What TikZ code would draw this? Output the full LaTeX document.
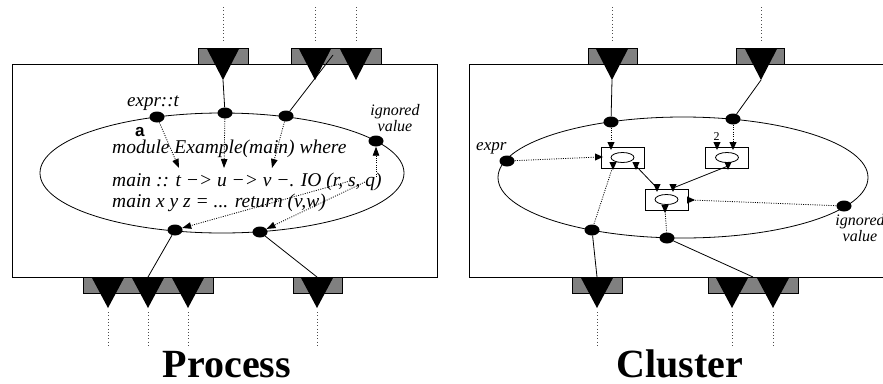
\documentclass[tikz,border=0pt]{standalone}
\usepackage{fontspec}
\setmainfont{Liberation Serif}
\newfontfamily\labsans{Liberation Sans}
\usetikzlibrary{shapes.geometric,arrows.meta}
\tikzset{
  mkdown/.pic={\fill (-3.6,-4) -- (3.6,-4) -- (0,4) -- cycle;},
  mkright/.pic={\fill (-4,-3.6) -- (-4,3.6) -- (4,0) -- cycle;}
}
\begin{document}
\begin{tikzpicture}[x=1pt,y=-1pt,
  dotn/.style={ellipse,fill=black,inner sep=0pt,minimum width=15pt,minimum height=11pt},
  pbox/.style={draw=black,fill=black!50,line width=0.8pt},
  frame/.style={draw=black,line width=0.9pt},
  wire/.style={line width=0.8pt},
  feed/.style={line width=0.9pt,black!70,dash pattern=on 1pt off 2.3pt},
  dwire/.style={line width=0.8pt,dash pattern=on 1pt off 1.3pt},
  darr/.style={dwire,-{Triangle[length=9pt,width=6.5pt]}},
  code/.style={font=\fontsize{19.5}{22}\selectfont\itshape,inner sep=0pt,anchor=base west},
  smalllab/.style={font=\fontsize{16}{14}\selectfont\itshape,inner sep=0pt,anchor=base,align=center},
  title/.style={font=\fontsize{40}{40}\selectfont\bfseries,inner sep=0pt,anchor=base,text depth=0pt},
  opbox/.style={draw=black,line width=0.8pt,minimum width=43pt,minimum height=21pt,inner sep=0pt},
]
\useasboundingbox (0,0) rectangle (883,383);
\clip (0,0) rectangle (883,383);

% ---------------- frames and ellipses
\draw[frame] (12,64) rectangle (437,277);
\draw[frame] (469,64) rectangle (900,277);
\draw[wire] (222,173) ellipse [x radius=182, y radius=60];
\draw[wire] (683,177.5) ellipse [x radius=185, y radius=60.5];

% ---------------- ports
\draw[pbox] (198,48) rectangle (248,64);
\draw[pbox] (291,48) rectangle (381,64);
\draw[pbox] (588,48) rectangle (637,64);
\draw[pbox] (736,48) rectangle (784,64);
\draw[pbox] (83,277) rectangle (213,293);
\draw[pbox] (293,277) rectangle (342,293);
\draw[pbox] (572,277) rectangle (622,293);
\draw[pbox] (708,277) rectangle (798,293);
\foreach \x in {223,315,356,612,761}
  \fill (\x-16.5,48) -- (\x+16.5,48) -- (\x,80) -- cycle;
\foreach \x in {108,148,188,317,597,732,773}
  \fill (\x-16.5,277) -- (\x+16.5,277) -- (\x,308) -- cycle;
\foreach \x in {223,315,356,612,761}
  \draw[feed] (\x,7) -- (\x,42);
\foreach \x in {108,148,188,317,597,732,773}
  \draw[feed] (\x,312) -- (\x,347);

% ---------------- Process panel
\coordinate (LT1) at (223,80);
\coordinate (LP2) at (333,55);
\coordinate (LB1) at (148,277);
\coordinate (LB2) at (317,277);
\node[dotn] (le1) at (157,117) {};
\node[dotn] (le2) at (225,113) {};
\node[dotn] (le3) at (286,116) {};
\node[dotn] (lig) at (376,141) {};
\node[dotn] (lb1) at (175,230) {};
\node[dotn] (lb2) at (260,232) {};

\node[code] (l1) at (112,153) {module Example(main) where};
\node[code] (l2) at (112,186) {main :: t −> u −> v −. IO (r, s, q)};
\node[code] (l3) at (112,207) {main x y z = ... return (v,w)};
\node[font=\fontsize{19}{19}\selectfont\itshape,inner sep=0pt,anchor=base west] (lexpr) at (127,106) {expr::t};
\node[font={\labsans\fontsize{17}{17}\selectfont\bfseries},inner sep=0pt,anchor=base west,text depth=0pt] (la) at (135,136) {a};
\node[smalllab] (lign) at (395,131) {ignored\\value};
\node[title] (proc) at (227,377) {Process};

\draw[wire] (LT1) -- (le2);
\draw[wire] (le3) -- (LP2);
\draw[wire] (lb1) -- (LB1);
\draw[wire] (lb2) -- (LB2);

\coordinate (lt1) at (179,168);
\coordinate (lt2) at (224,168);
\coordinate (lt3) at (272,168);
\coordinate (lq) at (376,177);
\coordinate (lr1) at (350,181);
\coordinate (lr2) at (367,181);
\draw[darr] (le1) -- (lt1);
\draw[darr] (le2) -- (lt2);
\draw[darr] (le3) -- (lt3);
\draw[darr] (lq) -- (lig);
\draw[darr] (lr1) -- (lb1);
\draw[darr] (lr2) -- (lb2);

% ---------------- Cluster panel
\coordinate (RT1) at (612,80);
\coordinate (RT2) at (761,80);
\coordinate (RB1) at (597,277);
\coordinate (RB2) at (753,277);
\node[dotn] (rt1) at (611,122) {};
\node[dotn] (rt2) at (733,119) {};
\node[dotn] (rex) at (507,161) {};
\node[dotn] (rig) at (844,206) {};
\node[dotn] (rb1) at (592,230) {};
\node[dotn] (rb2) at (667,238) {};

\node[opbox] (bA) at (622.5,157.5) {};
\node[opbox] (bB) at (727,157.5) {};
\node[opbox] (bC) at (666.5,199.5) {};
\foreach \b in {bA,bB,bC}
  \draw[line width=0.8pt] (\b.center) ellipse [x radius=11.5, y radius=5];

\coordinate (aTi) at (611,146);
\coordinate (aL) at (599,157);
\coordinate (aB1) at (613,166);
\coordinate (aB2) at (636,166);
\coordinate (bT1) at (717,146);
\coordinate (bT2) at (733,146);
\coordinate (bBo) at (728,166);
\coordinate (cT1) at (657,188);
\coordinate (cT2) at (673,188);
\coordinate (cR) at (691,200);
\coordinate (cB) at (665,209);

\draw[wire] (RT1) -- (rt1);
\draw[wire] (RT2) -- (rt2);
\draw[wire] (rb1) -- (RB1);
\draw[wire] (rb2) -- (RB2);

\draw[dwire] (rt1) -- (aTi);
\draw[dwire] (rex) -- (aL);
\draw[dwire] (aB1) -- (rb1);
\draw[dwire] (rt2) -- (bT2);
\draw[dwire] (rig) -- (cR);
\draw[dwire] (cB) -- (rb2);
\draw[wire] (aB2) -- (cT1);
\draw[wire] (bBo) -- (cT2);

\foreach \c in {aTi,aB1,aB2,bT1,bT2,bBo,cT1,cT2,cB}
  \pic at (\c) {mkdown};
\foreach \c in {aL,cR}
  \pic at (\c) {mkright};

\node[font=\fontsize{12}{12}\selectfont,inner sep=0pt,anchor=base] (two) at (716.5,140) {2};
\node[font=\fontsize{17}{17}\selectfont\itshape,inner sep=0pt,anchor=base west] (rexpr) at (476,150) {expr};
\node[smalllab] (rign) at (860,241) {ignored\\value};
\node[title] (clus) at (680,377) {Cluster};
\end{tikzpicture}
\end{document}
